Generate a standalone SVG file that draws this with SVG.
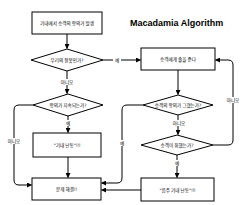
<svg xmlns="http://www.w3.org/2000/svg" width="246" height="205" viewBox="0 0 246 205">
<defs>
<marker id="ah" markerWidth="5" markerHeight="5" refX="4.5" refY="2.5" orient="auto" markerUnits="userSpaceOnUse">
<path d="M0,0 L5,2.5 L0,5 z" fill="#000"/>
</marker>
</defs>
<style>
.n{fill:#fff;stroke:#000;stroke-width:1}
.t{font-family:"Noto Sans CJK KR","Noto Sans",sans-serif;font-size:4.6px;text-anchor:middle;dominant-baseline:central;fill:#000}
.e{fill:none;stroke:#000;stroke-width:1;marker-end:url(#ah)}
.lb{fill:#fff}
</style>
<rect width="246" height="205" fill="#fff"/>
<text x="130" y="26" font-family="Liberation Sans, Arial, sans-serif" font-weight="bold" font-size="9" fill="#000">Macadamia Algorithm</text>
<g id="connectors">
<path class="e" d="M67,34 V48.5"/>
<path class="e" d="M103,60 H140.5"/>
<path class="e" d="M67,71 V93.5"/>
<path class="e" d="M68,116 V132.5"/>
<path class="e" d="M68,157 V177.5"/>
<path class="e" d="M33,105 H19 Q14,105 14,110 V180 Q14,185 19,185 H31.5"/>
<path class="e" d="M178,70 V94.5"/>
<path class="e" d="M178,115 V134.5"/>
<path class="e" d="M143,105 H127 Q122,105 122,110 V178 Q122,183 117,183 H101.5"/>
<path class="e" d="M177,155 V177.5"/>
<path class="e" d="M213,145 H228 Q233,145 233,140 V65 Q233,60 228,60 H215.5"/>
<path class="e" d="M141,190 H101.5"/>
<rect class="lb" x="113" y="57" width="8" height="6"/><text class="t" x="117" y="60">예</text>
<rect class="lb" x="60" y="79" width="14" height="6"/><text class="t" x="67" y="82">아니오</text>
<rect class="lb" x="64" y="120" width="8" height="6"/><text class="t" x="68" y="123">예</text>
<rect class="lb" x="7" y="138" width="14" height="6"/><text class="t" x="14" y="141">아니오</text>
<rect class="lb" x="172" y="120" width="14" height="6"/><text class="t" x="179" y="123">아니오</text>
<rect class="lb" x="118" y="140" width="8" height="6"/><text class="t" x="122" y="143">예</text>
<rect class="lb" x="173" y="160" width="8" height="6"/><text class="t" x="177" y="163">예</text>
<rect class="lb" x="226" y="97" width="14" height="6"/><text class="t" x="233" y="100">아니오</text>
</g>
<g id="n1"><rect class="n" x="32" y="12" width="70" height="22"/><text class="t" x="67" y="23">기내에서 승객의 항의가 발생</text></g>
<g id="d1"><polygon class="n" points="31,60 67,49 103,60 67,71"/><text class="t" x="67" y="60">우리의 잘못인가?</text></g>
<g id="d2"><polygon class="n" points="33,105 68,94 103,105 68,116"/><text class="t" x="68" y="105">항의가 지속되는가?</text></g>
<g id="b3"><rect class="n" x="33" y="133" width="68" height="24"/><text class="t" x="67" y="145">"기내 난동"!!!</text></g>
<g id="b4"><rect class="n" x="32" y="178" width="69" height="22"/><text class="t" x="66.5" y="189">문제 해결!!</text></g>
<g id="b2"><rect class="n" x="141" y="48" width="74" height="22"/><text class="t" x="178" y="59">승객에게 술을 준다</text></g>
<g id="d3"><polygon class="n" points="143,105 178,95 213,105 178,115"/><text class="t" x="178" y="105">승객의 항의가 그쳤는가?</text></g>
<g id="d4"><polygon class="n" points="141,145 177,135 213,145 177,155"/><text class="t" x="177" y="145">승객이 취했는가?</text></g>
<g id="b5"><rect class="n" x="141" y="178" width="73" height="23"/><text class="t" x="177.5" y="189.5">"음주 기내 난동"!!!</text></g>
</svg>
